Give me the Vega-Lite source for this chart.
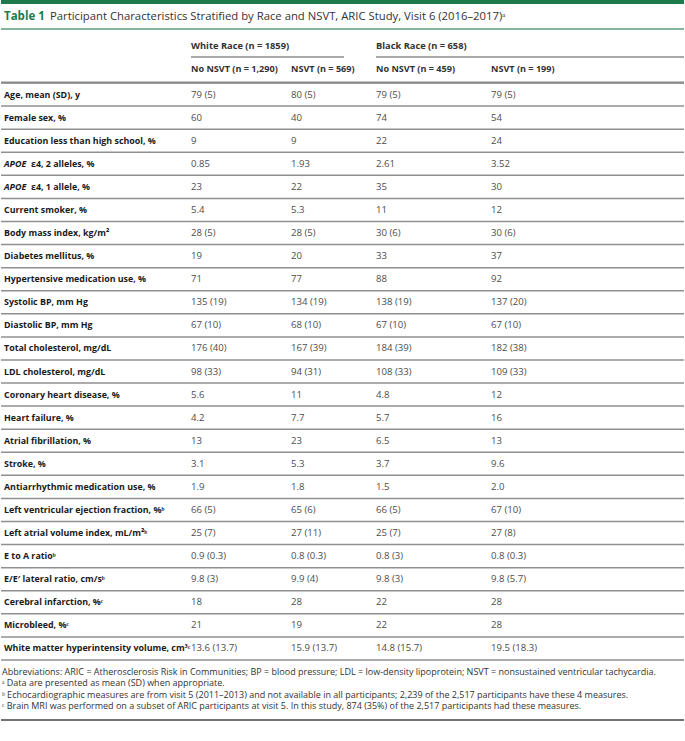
{
  "$schema": "https://vega.github.io/schema/vega-lite/v6.json",
  "width": 685,
  "height": 741,
  "autosize": {"type": "fit", "contains": "padding"},
  "padding": 0,
  "background": "white",
  "config": {"view": {"stroke": null}, "text": {"font": "Open Sans"}},
  "datasets": {
    "cells": [
      {"label": "Age, mean (SD), y", "wNo": "79 (5)", "wYes": "80 (5)", "bNo": "79 (5)", "bYes": "79 (5)"},
      {"label": "Female sex, %", "wNo": "60", "wYes": "40", "bNo": "74", "bYes": "54"},
      {"label": "Education less than high school, %", "wNo": "9", "wYes": "9", "bNo": "22", "bYes": "24"},
      {"label": "APOE ε4, 2 alleles, %", "wNo": "0.85", "wYes": "1.93", "bNo": "2.61", "bYes": "3.52"},
      {"label": "APOE ε4, 1 allele, %", "wNo": "23", "wYes": "22", "bNo": "35", "bYes": "30"},
      {"label": "Current smoker, %", "wNo": "5.4", "wYes": "5.3", "bNo": "11", "bYes": "12"},
      {"label": "Body mass index, kg/m²", "wNo": "28 (5)", "wYes": "28 (5)", "bNo": "30 (6)", "bYes": "30 (6)"},
      {"label": "Diabetes mellitus, %", "wNo": "19", "wYes": "20", "bNo": "33", "bYes": "37"},
      {"label": "Hypertensive medication use, %", "wNo": "71", "wYes": "77", "bNo": "88", "bYes": "92"},
      {"label": "Systolic BP, mm Hg", "wNo": "135 (19)", "wYes": "134 (19)", "bNo": "138 (19)", "bYes": "137 (20)"},
      {"label": "Diastolic BP, mm Hg", "wNo": "67 (10)", "wYes": "68 (10)", "bNo": "67 (10)", "bYes": "67 (10)"},
      {"label": "Total cholesterol, mg/dL", "wNo": "176 (40)", "wYes": "167 (39)", "bNo": "184 (39)", "bYes": "182 (38)"},
      {"label": "LDL cholesterol, mg/dL", "wNo": "98 (33)", "wYes": "94 (31)", "bNo": "108 (33)", "bYes": "109 (33)"},
      {"label": "Coronary heart disease, %", "wNo": "5.6", "wYes": "11", "bNo": "4.8", "bYes": "12"},
      {"label": "Heart failure, %", "wNo": "4.2", "wYes": "7.7", "bNo": "5.7", "bYes": "16"},
      {"label": "Atrial fibrillation, %", "wNo": "13", "wYes": "23", "bNo": "6.5", "bYes": "13"},
      {"label": "Stroke, %", "wNo": "3.1", "wYes": "5.3", "bNo": "3.7", "bYes": "9.6"},
      {"label": "Antiarrhythmic medication use, %", "wNo": "1.9", "wYes": "1.8", "bNo": "1.5", "bYes": "2.0"},
      {"label": "Left ventricular ejection fraction, %ᵇ", "wNo": "66 (5)", "wYes": "65 (6)", "bNo": "66 (5)", "bYes": "67 (10)"},
      {"label": "Left atrial volume index, mL/m²ᵇ", "wNo": "25 (7)", "wYes": "27 (11)", "bNo": "25 (7)", "bYes": "27 (8)"},
      {"label": "E to A ratioᵇ", "wNo": "0.9 (0.3)", "wYes": "0.8 (0.3)", "bNo": "0.8 (3)", "bYes": "0.8 (0.3)"},
      {"label": "E/E′ lateral ratio, cm/sᵇ", "wNo": "9.8 (3)", "wYes": "9.9 (4)", "bNo": "9.8 (3)", "bYes": "9.8 (5.7)"},
      {"label": "Cerebral infarction, %ᶜ", "wNo": "18", "wYes": "28", "bNo": "22", "bYes": "28"},
      {"label": "Microbleed, %ᶜ", "wNo": "21", "wYes": "19", "bNo": "22", "bYes": "28"},
      {"label": "White matter hyperintensity volume, cm³ᶜ", "wNo": "13.6 (13.7)", "wYes": "15.9 (13.7)", "bNo": "14.8 (15.7)", "bYes": "19.5 (18.3)"}
    ],
    "notes": [
      {"note": "Abbreviations: ARIC = Atherosclerosis Risk in Communities; BP = blood pressure; LDL = low-density lipoprotein; NSVT = nonsustained ventricular tachycardia."},
      {"note": "ᵃ Data are presented as mean (SD) when appropriate."},
      {"note": "ᵇ Echocardiographic measures are from visit 5 (2011–2013) and not available in all participants; 2,239 of the 2,517 participants have these 4 measures."},
      {"note": "ᶜ Brain MRI was performed on a subset of ARIC participants at visit 5. In this study, 874 (35%) of the 2,517 participants had these measures."}
    ]
  },
  "layer": [
    {
      "data": {"name": "cells"},
      "mark": {"type": "rule", "color": "#8f8f8f", "strokeWidth": 1.5},
      "encoding": {"x": {"value": 0}, "x2": {"value": "width"}, "y": {"field": "label", "type": "nominal", "sort": null, "bandPosition": 0, "scale": {"type": "band", "range": [83, 660], "paddingInner": 0, "paddingOuter": 0}, "axis": null}}
    },
    {
      "data": {"name": "cells"},
      "transform": [{"window": [{"op": "row_number", "as": "i"}]}, {"filter": "datum.i == 25"}],
      "mark": {"type": "rule", "color": "#8f8f8f", "strokeWidth": 1.5},
      "encoding": {"x": {"value": 0}, "x2": {"value": "width"}, "y": {"field": "label", "type": "nominal", "sort": null, "bandPosition": 1, "axis": null}}
    },
    {
      "data": {"values": [{"part": "bar"}]},
      "mark": {"type": "rect", "color": "#1d7a4c"},
      "encoding": {"x": {"value": 0}, "x2": {"value": "width"}, "y": {"value": 0}, "y2": {"value": 4}}
    },
    {
      "data": {"values": [{"t": "Table 1"}]},
      "mark": {"type": "text", "align": "left", "baseline": "middle", "fontSize": 11.5, "fontWeight": "bold", "color": "#1d7a4c"},
      "encoding": {"text": {"field": "t"}, "x": {"value": 3}, "y": {"value": 17}}
    },
    {
      "data": {"values": [{"t": "Participant Characteristics Stratified by Race and NSVT, ARIC Study, Visit 6 (2016–2017)ᵃ"}]},
      "mark": {"type": "text", "align": "left", "baseline": "middle", "fontSize": 11.3, "color": "#333333"},
      "encoding": {"text": {"field": "t"}, "x": {"value": 49}, "y": {"value": 17}}
    },
    {
      "data": {"values": [{"part": "titleline"}]},
      "mark": {"type": "rule", "color": "#5c9e7c", "strokeWidth": 1.5},
      "encoding": {"x": {"value": 0}, "x2": {"value": "width"}, "y": {"value": 29}}
    },
    {
      "data": {"values": [{"t": "White Race (n = 1859)"}]},
      "mark": {"type": "text", "align": "left", "baseline": "middle", "fontSize": 9.3, "fontWeight": "bold", "color": "#333333"},
      "encoding": {"text": {"field": "t"}, "x": {"value": 190}, "y": {"value": 46}}
    },
    {
      "data": {"values": [{"t": "Black Race (n = 658)"}]},
      "mark": {"type": "text", "align": "left", "baseline": "middle", "fontSize": 9.3, "fontWeight": "bold", "color": "#333333"},
      "encoding": {"text": {"field": "t"}, "x": {"value": 375}, "y": {"value": 46}}
    },
    {
      "data": {"values": [{"g": "w"}]},
      "mark": {"type": "rule", "color": "#555555", "strokeWidth": 1},
      "encoding": {"x": {"value": 190}, "x2": {"value": 343}, "y": {"value": 57}}
    },
    {
      "data": {"values": [{"g": "b"}]},
      "mark": {"type": "rule", "color": "#555555", "strokeWidth": 1},
      "encoding": {"x": {"value": 375}, "x2": {"value": "width"}, "y": {"value": 57}}
    },
    {
      "data": {"values": [{"t": "No NSVT (n = 1,290)"}]},
      "mark": {"type": "text", "align": "left", "baseline": "middle", "fontSize": 9.1, "fontWeight": "bold", "color": "#333333"},
      "encoding": {"text": {"field": "t"}, "x": {"value": 190}, "y": {"value": 69}}
    },
    {
      "data": {"values": [{"t": "NSVT (n = 569)"}]},
      "mark": {"type": "text", "align": "left", "baseline": "middle", "fontSize": 9.1, "fontWeight": "bold", "color": "#333333"},
      "encoding": {"text": {"field": "t"}, "x": {"value": 290}, "y": {"value": 69}}
    },
    {
      "data": {"values": [{"t": "No NSVT (n = 459)"}]},
      "mark": {"type": "text", "align": "left", "baseline": "middle", "fontSize": 9.1, "fontWeight": "bold", "color": "#333333"},
      "encoding": {"text": {"field": "t"}, "x": {"value": 375}, "y": {"value": 69}}
    },
    {
      "data": {"values": [{"t": "NSVT (n = 199)"}]},
      "mark": {"type": "text", "align": "left", "baseline": "middle", "fontSize": 9.1, "fontWeight": "bold", "color": "#333333"},
      "encoding": {"text": {"field": "t"}, "x": {"value": 490}, "y": {"value": 69}}
    },
    {
      "data": {"values": [{"part": "headline"}]},
      "mark": {"type": "rule", "color": "#8a8a8a", "strokeWidth": 2},
      "encoding": {"x": {"value": 0}, "x2": {"value": "width"}, "y": {"value": 82.5}}
    },
    {
      "data": {"name": "cells"},
      "transform": [{"filter": "indexof(datum.label, 'APOE') !== 0"}],
      "mark": {"type": "text", "align": "left", "baseline": "middle", "fontSize": 8.9, "fontWeight": "bold", "color": "#1a1a1a"},
      "encoding": {"text": {"field": "label"}, "x": {"value": 3}, "y": {"field": "label", "type": "nominal", "sort": null, "axis": null}}
    },
    {
      "data": {"name": "cells"},
      "transform": [{"filter": "indexof(datum.label, 'APOE') === 0"}, {"calculate": "substring(datum.label, 0, 4)", "as": "head"}],
      "mark": {"type": "text", "align": "left", "baseline": "middle", "fontSize": 8.9, "fontWeight": "bold", "fontStyle": "italic", "color": "#1a1a1a"},
      "encoding": {"text": {"field": "head"}, "x": {"value": 3}, "y": {"field": "label", "type": "nominal", "sort": null, "axis": null}}
    },
    {
      "data": {"name": "cells"},
      "transform": [{"filter": "indexof(datum.label, 'APOE') === 0"}, {"calculate": "substring(datum.label, 5)", "as": "rest"}],
      "mark": {"type": "text", "align": "left", "baseline": "middle", "fontSize": 8.9, "fontWeight": "bold", "color": "#1a1a1a", "dx": 27},
      "encoding": {"text": {"field": "rest"}, "x": {"value": 3}, "y": {"field": "label", "type": "nominal", "sort": null, "axis": null}}
    },
    {
      "data": {"name": "cells"},
      "mark": {"type": "text", "align": "left", "baseline": "middle", "fontSize": 9.6, "color": "#4d4d4d"},
      "encoding": {"text": {"field": "wNo"}, "x": {"value": 190}, "y": {"field": "label", "type": "nominal", "sort": null, "axis": null}}
    },
    {
      "data": {"name": "cells"},
      "mark": {"type": "text", "align": "left", "baseline": "middle", "fontSize": 9.6, "color": "#4d4d4d"},
      "encoding": {"text": {"field": "wYes"}, "x": {"value": 290}, "y": {"field": "label", "type": "nominal", "sort": null, "axis": null}}
    },
    {
      "data": {"name": "cells"},
      "mark": {"type": "text", "align": "left", "baseline": "middle", "fontSize": 9.6, "color": "#4d4d4d"},
      "encoding": {"text": {"field": "bNo"}, "x": {"value": 375}, "y": {"field": "label", "type": "nominal", "sort": null, "axis": null}}
    },
    {
      "data": {"name": "cells"},
      "mark": {"type": "text", "align": "left", "baseline": "middle", "fontSize": 9.6, "color": "#4d4d4d"},
      "encoding": {"text": {"field": "bYes"}, "x": {"value": 490}, "y": {"field": "label", "type": "nominal", "sort": null, "axis": null}}
    },
    {
      "data": {"name": "notes"},
      "transform": [{"aggregate": [{"op": "values", "field": "note", "as": "lines"}]}, {"calculate": "pluck(datum.lines, 'note')", "as": "txt"}],
      "mark": {"type": "text", "align": "left", "baseline": "top", "fontSize": 9, "lineHeight": 11.4, "color": "#333333"},
      "encoding": {"text": {"field": "txt"}, "x": {"value": 1}, "y": {"value": 668}}
    },
    {
      "data": {"values": [{"part": "bottom"}]},
      "mark": {"type": "rule", "color": "#444444", "strokeWidth": 1.5},
      "encoding": {"x": {"value": 0}, "x2": {"value": "width"}, "y": {"value": 720}}
    }
  ]
}
